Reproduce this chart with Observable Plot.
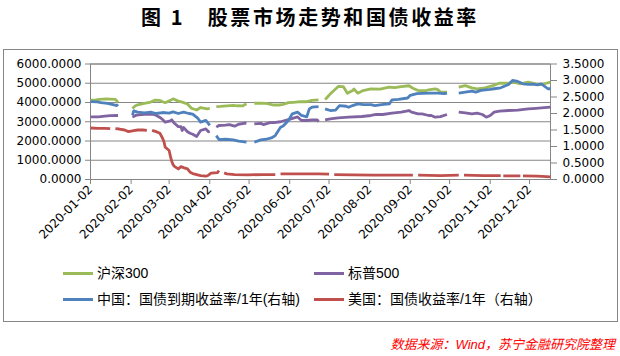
<!DOCTYPE html>
<html><head><meta charset="utf-8">
<script src="https://cdn.jsdelivr.net/npm/d3@7"></script>
<script src="https://cdn.jsdelivr.net/npm/@observablehq/plot@0.6"></script>
<style>
body{margin:0;width:620px;height:356px;position:relative;background:#fff;overflow:hidden;}
#title{position:absolute;left:0;top:6px;width:620px;text-align:center;font:700 20px/22px "Noto Sans CJK SC";letter-spacing:2.6px;color:#000;}
#chart{position:absolute;left:0;top:49px;}
#box{position:absolute;left:3px;top:49px;width:613px;height:271px;border:1px solid #868686;pointer-events:none;}
.lg{position:absolute;font:14px/16px "Liberation Sans","Noto Sans CJK SC";color:#000;white-space:nowrap;}
.sw{position:absolute;width:30px;height:3px;}
#cap{position:absolute;right:5px;top:336px;font:italic 13px/18px "Liberation Sans","Noto Sans CJK SC";color:#ff0000;white-space:nowrap;}
</style></head>
<body>
<div id="title">图 1　股票市场走势和国债收益率</div>
<div id="chart"></div>
<div id="legend"></div>
<div id="box"></div>
<div id="cap">数据来源：Wind，苏宁金融研究院整理</div>
<script>
// ---- data ----
const seriesNames = ["沪深300", "标普500", "中国：国债到期收益率/1年(右轴)", "美国：国债收益率/1年（右轴）"];
const seriesColors = ["#9BBB59", "#8064A2", "#4F81BD", "#C0504D"];
const leftTicks = [0, 1000, 2000, 3000, 4000, 5000, 6000];
const rightTicks = [0, 0.5, 1, 1.5, 2, 2.5, 3, 3.5];
const xTickLabels = ["2020-01-02","2020-02-02","2020-03-02","2020-04-02","2020-05-02","2020-06-02","2020-07-02","2020-08-02","2020-09-02","2020-10-02","2020-11-02","2020-12-02"];
const xDomain = ["2020-01-02", "2020-12-18"];

// 沪深300 (left axis); null = no data (holiday)
const hs300 = [
["2020-01-02",4120],["2020-01-06",4130],["2020-01-09",4160],["2020-01-14",4190],["2020-01-17",4180],["2020-01-21",4160],["2020-01-23",4010],
["2020-01-28",null],
["2020-02-03",3690],["2020-02-05",3820],["2020-02-07",3880],["2020-02-12",3960],["2020-02-17",4020],["2020-02-20",4120],["2020-02-24",4110],["2020-02-26",4040],["2020-02-28",3990],["2020-03-03",4110],["2020-03-05",4190],["2020-03-09",4070],["2020-03-12",4020],["2020-03-16",3920],["2020-03-19",3700],["2020-03-23",3610],["2020-03-26",3740],["2020-03-31",3670],["2020-04-02",3700],
["2020-04-05",null],
["2020-04-07",3790],["2020-04-10",3800],["2020-04-15",3830],["2020-04-20",3850],["2020-04-23",3830],["2020-04-27",3820],["2020-04-30",3930],
["2020-05-03",null],
["2020-05-06",3960],["2020-05-11",3970],["2020-05-15",3950],["2020-05-21",3870],["2020-05-25",3870],["2020-05-28",3900],["2020-06-01",3990],["2020-06-05",4010],["2020-06-10",4040],["2020-06-15",4040],["2020-06-19",4110],["2020-06-24",4140],
["2020-06-26",null],
["2020-06-29",4150],["2020-07-01",4300],["2020-07-03",4450],["2020-07-07",4700],["2020-07-09",4830],["2020-07-13",4820],["2020-07-16",4480],["2020-07-20",4620],["2020-07-21",4700],["2020-07-24",4485],["2020-07-28",4620],["2020-08-03",4710],["2020-08-10",4700],["2020-08-17",4800],["2020-08-21",4770],["2020-08-26",4830],["2020-09-01",4870],["2020-09-04",4740],["2020-09-08",4620],["2020-09-14",4610],["2020-09-16",4660],["2020-09-21",4710],["2020-09-23",4670],["2020-09-25",4540],["2020-09-30",4540],
["2020-10-04",null],
["2020-10-09",4795],["2020-10-14",4880],["2020-10-19",4760],["2020-10-23",4710],["2020-10-29",4760],["2020-11-04",4880],["2020-11-09",5000],["2020-11-16",5000],["2020-11-20",5055],["2020-11-25",4970],["2020-12-01",5055],["2020-12-07",4970],["2020-12-11",4935],["2020-12-18",5060]
];

// 标普500 (left axis)
const sp500 = [
["2020-01-02",3258],["2020-01-08",3253],["2020-01-13",3288],["2020-01-17",3320],["2020-01-23",3325],
["2020-01-28",null],
["2020-02-03",3250],["2020-02-06",3345],["2020-02-12",3379],["2020-02-19",3386],["2020-02-21",3337],["2020-02-24",3226],["2020-02-26",3116],["2020-02-28",2980],["2020-03-03",3050],["2020-03-04",3100],["2020-03-06",2920],["2020-03-09",2750],["2020-03-11",2740],["2020-03-12",2545],["2020-03-13",2700],["2020-03-16",2480],["2020-03-18",2400],["2020-03-20",2350],["2020-03-23",2237],["2020-03-26",2545],["2020-03-30",2632],["2020-04-01",2480],["2020-04-02",2510],
["2020-04-05",null],
["2020-04-07",2717],["2020-04-09",2805],["2020-04-14",2830],["2020-04-17",2850],["2020-04-21",2770],["2020-04-24",2870],["2020-04-29",2925],["2020-04-30",2912],
["2020-05-03",null],
["2020-05-06",2890],["2020-05-11",2920],["2020-05-13",2850],["2020-05-18",2950],["2020-05-21",2960],["2020-05-26",3000],["2020-06-03",3150],["2020-06-08",3250],["2020-06-11",3065],["2020-06-15",3065],["2020-06-19",3090],["2020-06-23",3100],["2020-06-24",3000],
["2020-06-26",null],
["2020-06-29",3100],["2020-07-03",3150],["2020-07-09",3203],["2020-07-17",3238],["2020-07-27",3273],["2020-08-03",3325],["2020-08-07",3377],["2020-08-12",3377],["2020-08-19",3446],["2020-08-26",3497],["2020-09-01",3584],["2020-09-03",3497],["2020-09-08",3410],["2020-09-11",3410],["2020-09-16",3325],["2020-09-18",3325],["2020-09-21",3238],["2020-09-25",3270],["2020-09-30",3377],
["2020-10-04",null],
["2020-10-09",3497],["2020-10-14",3460],["2020-10-19",3410],["2020-10-23",3450],["2020-10-27",3377],["2020-10-30",3238],["2020-11-02",3325],["2020-11-05",3497],["2020-11-09",3550],["2020-11-16",3584],["2020-11-23",3600],["2020-12-01",3670],["2020-12-07",3700],["2020-12-11",3723],["2020-12-18",3756]
];

// 中国：国债到期收益率/1年 (right axis, %)
const cn1y = [
["2020-01-02",2.36],["2020-01-07",2.35],["2020-01-10",2.33],["2020-01-15",2.31],["2020-01-20",2.26],["2020-01-22",2.24],["2020-01-23",2.28],
["2020-01-28",null],
["2020-02-03",1.95],["2020-02-04",2.08],["2020-02-07",2.04],["2020-02-12",2.02],["2020-02-17",2.04],["2020-02-21",2.00],["2020-02-26",2.03],["2020-03-02",2.01],["2020-03-05",2.05],["2020-03-09",2.00],["2020-03-13",2.04],["2020-03-17",2.00],["2020-03-20",1.98],["2020-03-24",1.85],["2020-03-26",1.74],["2020-03-30",1.79],["2020-04-01",1.69],["2020-04-02",1.64],
["2020-04-05",null],
["2020-04-07",1.33],["2020-04-09",1.21],["2020-04-14",1.22],["2020-04-20",1.20],["2020-04-24",1.16],["2020-04-30",1.13],
["2020-05-03",null],
["2020-05-06",1.13],["2020-05-11",1.20],["2020-05-15",1.22],["2020-05-19",1.26],["2020-05-22",1.33],["2020-05-26",1.58],["2020-05-28",1.62],["2020-06-01",1.79],["2020-06-04",1.99],["2020-06-08",2.04],["2020-06-11",1.94],["2020-06-15",1.90],["2020-06-17",2.14],["2020-06-19",2.19],["2020-06-24",2.21],
["2020-06-26",null],
["2020-06-29",2.14],["2020-07-03",2.09],["2020-07-07",2.10],["2020-07-10",2.24],["2020-07-15",2.22],["2020-07-17",2.19],["2020-07-20",2.24],["2020-07-24",2.29],["2020-07-28",2.27],["2020-08-03",2.27],["2020-08-06",2.24],["2020-08-11",2.27],["2020-08-17",2.29],["2020-08-19",2.41],["2020-08-24",2.43],["2020-08-31",2.47],["2020-09-02",2.55],["2020-09-07",2.60],["2020-09-11",2.61],["2020-09-18",2.62],["2020-09-23",2.62],["2020-09-28",2.60],["2020-09-30",2.62],
["2020-10-04",null],
["2020-10-09",2.62],["2020-10-14",2.65],["2020-10-19",2.68],["2020-10-22",2.65],["2020-10-26",2.70],["2020-11-02",2.73],["2020-11-05",2.75],["2020-11-10",2.78],["2020-11-16",2.88],["2020-11-19",3.00],["2020-11-23",2.97],["2020-11-27",2.90],["2020-12-01",2.88],["2020-12-04",2.89],["2020-12-08",2.87],["2020-12-11",2.90],["2020-12-16",2.75],["2020-12-18",2.75]
];

// 美国：国债收益率/1年 (right axis, %)
const us1y = [
["2020-01-02",1.56],["2020-01-08",1.55],["2020-01-13",1.55],["2020-01-17",1.54],
["2020-01-20",null],
["2020-01-21",1.54],["2020-01-24",1.53],["2020-01-28",1.50],["2020-01-31",1.45],["2020-02-04",1.48],["2020-02-07",1.50],["2020-02-11",1.50],["2020-02-14",1.49],
["2020-02-17",null],
["2020-02-18",1.49],["2020-02-21",1.45],["2020-02-24",1.40],["2020-02-26",1.25],["2020-02-27",1.15],["2020-02-28",0.98],["2020-03-02",0.88],["2020-03-03",0.70],["2020-03-04",0.55],["2020-03-05",0.45],["2020-03-06",0.40],["2020-03-09",0.32],["2020-03-11",0.39],["2020-03-13",0.36],["2020-03-16",0.32],["2020-03-18",0.22],["2020-03-20",0.18],["2020-03-23",0.15],["2020-03-26",0.12],["2020-03-30",0.10],["2020-04-01",0.13],["2020-04-03",0.19],["2020-04-08",0.21],["2020-04-09",0.27],
["2020-04-10",null],
["2020-04-13",0.20],["2020-04-15",0.17],["2020-04-21",0.15],["2020-05-01",0.14],["2020-05-12",0.15],["2020-05-22",0.15],
["2020-05-25",null],
["2020-05-26",0.17],["2020-06-10",0.17],["2020-06-24",0.17],["2020-07-02",0.16],
["2020-07-03",null],
["2020-07-06",0.15],["2020-07-20",0.14],["2020-08-05",0.13],["2020-08-20",0.13],["2020-09-04",0.13],
["2020-09-07",null],
["2020-09-08",0.13],["2020-09-25",0.12],["2020-10-09",0.13],
["2020-10-12",null],
["2020-10-13",0.13],["2020-10-28",0.12],["2020-11-10",0.12],
["2020-11-11",null],
["2020-11-12",0.11],["2020-11-25",0.11],
["2020-11-26",null],
["2020-11-27",0.11],["2020-12-08",0.10],["2020-12-18",0.08]
];

// ---- chart ----
const k = leftTicks[leftTicks.length - 1] / rightTicks[rightTicks.length - 1]; // right -> left scale factor
const pd = s => new Date(s + "T00:00:00Z");
const leftY = d => d[1] == null ? null : d[1];
const rightY = d => d[1] == null ? null : d[1] * k;
const lineOpts = (y, c) => ({x: d => pd(d[0]), y, stroke: c, strokeWidth: 2.8, strokeLinejoin: "round", strokeLinecap: "butt"});

const chart = Plot.plot({
  width: 620, height: 215,
  marginLeft: 90, marginRight: 70, marginTop: 14.5, marginBottom: 85,
  style: {background: "transparent", fontFamily: "DejaVu Sans", fontSize: "12px", color: "#000", overflow: "visible"},
  x: {type: "utc", domain: xDomain.map(pd)},
  y: {domain: [0, 6000]},
  marks: [
    Plot.gridY(leftTicks, {stroke: "#868686", strokeOpacity: 1, strokeWidth: 1}),
    Plot.frame({stroke: "#868686", strokeWidth: 1}),
    Plot.axisY(leftTicks, {anchor: "left", tickSize: 5, tickPadding: 4, stroke: "#868686", fill: "#000", tickFormat: d => d.toFixed(4), label: null}),
    Plot.axisY(rightTicks.map(v => v * k), {anchor: "right", tickSize: 6, tickPadding: 6, stroke: "#868686", fill: "#000", tickFormat: d => (d / k).toFixed(4), label: null}),
    Plot.axisX(xTickLabels.map(pd), {anchor: "bottom", tickSize: 5, tickPadding: 3, tickRotate: -45, stroke: "#868686", fill: "#000", tickFormat: d3.utcFormat("%Y-%m-%d"), label: null}),
    Plot.line(hs300, lineOpts(leftY, seriesColors[0])),
    Plot.line(sp500, lineOpts(leftY, seriesColors[1])),
    Plot.line(cn1y, lineOpts(rightY, seriesColors[2])),
    Plot.line(us1y, lineOpts(rightY, seriesColors[3]))
  ]
});
document.getElementById("chart").appendChild(chart);

// ---- legend ----
const lg = document.getElementById("legend");
const legendPos = [[63, 273], [314, 273], [63, 299], [314, 299]];
seriesNames.forEach((name, i) => {
  const [x, y] = legendPos[i];
  const sw = document.createElement("div");
  sw.className = "sw"; sw.style.left = x + "px"; sw.style.top = (y - 1.5) + "px"; sw.style.background = seriesColors[i];
  lg.appendChild(sw);
  const t = document.createElement("div");
  t.className = "lg"; t.style.left = (x + 34) + "px"; t.style.top = (y - 8) + "px"; t.textContent = name;
  lg.appendChild(t);
});
</script>
</body></html>
